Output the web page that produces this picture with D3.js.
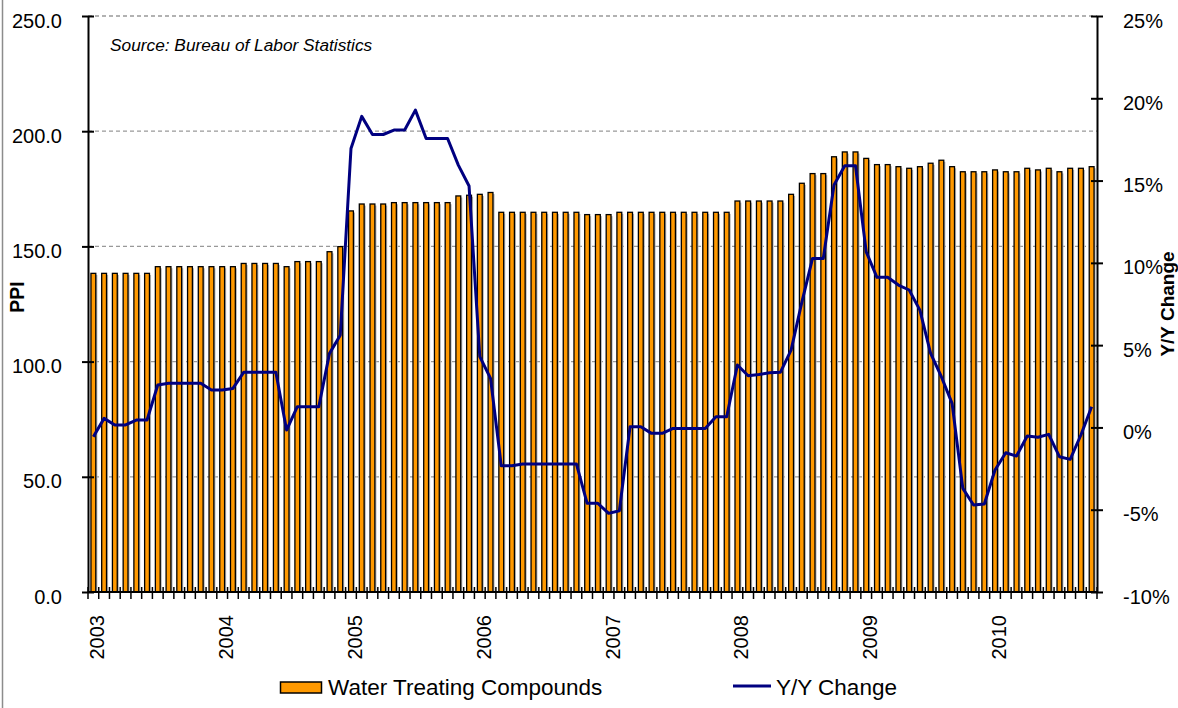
<!DOCTYPE html>
<html>
<head>
<meta charset="utf-8">
<script src="https://cdn.jsdelivr.net/npm/d3@7"></script>
<style>
  body { margin: 0; background: #fff; }
  svg { font-family: "Liberation Sans", Arial, sans-serif; display: block; }
</style>
</head>
<body>
<svg width="1178" height="708"></svg>
<script>
// monthly PPI, Jan 2003 .. Oct 2010
const years = ["2003", "2004", "2005", "2006", "2007", "2008", "2009", "2010"];

const ppi = [
  138.3, 138.3, 138.3, 138.3, 138.3, 138.3, 141.2, 141.2, 141.2, 141.2, 141.2, 141.2,
  141.2, 141.2, 142.6, 142.6, 142.6, 142.6, 141.2, 143.4, 143.4, 143.4, 147.7, 149.9,
  165.4, 168.4, 168.4, 168.4, 169.0, 169.0, 169.0, 169.0, 169.0, 169.0, 171.9, 172.2,
  172.6, 173.4, 164.8, 164.8, 164.8, 164.8, 164.8, 164.8, 164.8, 164.8, 163.8, 163.8,
  163.8, 164.8, 164.8, 164.8, 164.8, 164.8, 164.8, 164.8, 164.8, 164.8, 164.8, 164.8,
  169.7, 169.7, 169.7, 169.7, 169.7, 172.6, 177.4, 181.6, 181.6, 188.9, 191.0, 191.0,
  188.2, 185.5, 185.5, 184.6, 183.9, 184.6, 186.1, 187.4, 184.6, 182.4, 182.4, 182.4,
  183.2, 182.4, 182.4, 183.9, 183.2, 183.9, 182.4, 183.9, 183.9, 184.6
];

// Y/Y change, percent
const yoy = [
  -0.56, 0.55, 0.15, 0.15, 0.45, 0.45, 2.58, 2.68, 2.68, 2.68, 2.68, 2.27,
  2.27, 2.37, 3.35, 3.35, 3.35, 3.35, -0.16, 1.26, 1.26, 1.26, 4.5, 5.6,
  16.95, 18.9, 17.8, 17.8, 18.07, 18.07, 19.28, 17.56, 17.56, 17.56, 15.94, 14.67,
  4.3, 2.98, -2.33, -2.33, -2.22, -2.22, -2.22, -2.22, -2.22, -2.22, -4.61, -4.61,
  -5.22, -5.06, 0.04, 0.04, -0.36, -0.36, -0.06, -0.06, -0.06, -0.06, 0.65, 0.65,
  3.79, 3.14, 3.22, 3.32, 3.35, 4.7, 7.6, 10.27, 10.27, 14.73, 15.9, 15.9,
  10.67, 9.12, 9.12, 8.65, 8.35, 7.13, 4.5, 3.08, 1.46, -3.7, -4.71, -4.65,
  -2.59, -1.54, -1.74, -0.52, -0.6, -0.42, -1.78, -1.94, -0.46, 1.26
];

const leftTicks = [0, 50, 100, 150, 200, 250];
const rightTicks = [-10, -5, 0, 5, 10, 15, 20, 25];

const svg = d3.select("svg");
const margin = {top: 16, right: 81, bottom: 116, left: 88};
const width = 1178 - margin.left - margin.right;
const height = 708 - margin.top - margin.bottom;

const months = ppi.map((d, i) => i);

const x = d3.scaleBand()
  .domain(months)
  .range([0, width])
  .paddingInner(0.55)
  .paddingOuter(0.275);
const step = width / months.length;
const cx = i => x(i) + x.bandwidth() / 2;

const y = d3.scaleLinear().domain([0, 250]).range([height, 0]);
const y2 = d3.scaleLinear().domain([-10, 25]).range([height, 0]);

// left border of the chart area
svg.append("line")
  .attr("x1", 2.5).attr("x2", 2.5)
  .attr("y1", 0).attr("y2", 708)
  .attr("stroke", "#8c8c8c")
  .attr("stroke-width", 1.5);

const g = svg.append("g")
  .attr("transform", `translate(${margin.left},${margin.top})`);

// dashed gridlines
g.append("g")
  .selectAll("line")
  .data(leftTicks.filter(d => d > 0))
  .join("line")
  .attr("x1", 0).attr("x2", width)
  .attr("y1", d => y(d)).attr("y2", d => y(d))
  .attr("stroke", "#999")
  .attr("stroke-width", 1.3)
  .attr("stroke-dasharray", "4,3");

// bar shadows
g.append("g")
  .selectAll("rect")
  .data(ppi)
  .join("rect")
  .attr("x", (d, i) => x(i) + 1.6)
  .attr("y", d => y(d) + 1.6)
  .attr("width", x.bandwidth())
  .attr("height", d => height - y(d) - 1.6)
  .attr("fill", "#b5b5b5");

g.append("g")
  .selectAll("rect")
  .data(ppi)
  .join("rect")
  .attr("x", (d, i) => x(i))
  .attr("y", d => y(d))
  .attr("width", x.bandwidth())
  .attr("height", d => height - y(d))
  .attr("fill", "#ff9900")
  .attr("stroke", "#000")
  .attr("stroke-width", 1.3);

const line = d3.line()
  .x((d, i) => cx(i))
  .y(d => y2(d));

g.append("path")
  .datum(yoy)
  .attr("d", line)
  .attr("fill", "none")
  .attr("stroke", "#000080")
  .attr("stroke-width", 3)
  .attr("stroke-linejoin", "round");

// left axis
const yAxis = g.append("g")
  .call(d3.axisLeft(y).tickValues(leftTicks).tickFormat(d3.format(".1f"))
    .tickSizeInner(6).tickSizeOuter(0).tickPadding(20));
yAxis.select(".domain").attr("stroke-width", 2);
yAxis.selectAll(".tick line").attr("x2", -6).attr("x1", 6).attr("stroke-width", 2);
yAxis.selectAll("text").attr("font-size", 20).attr("dy", "0.55em")
  .attr("font-family", "Liberation Sans, Arial, sans-serif").attr("fill", "#000");

// right axis
const y2Axis = g.append("g")
  .attr("transform", `translate(${width},0)`)
  .call(d3.axisRight(y2).tickValues(rightTicks).tickFormat(d => d + "%")
    .tickSizeInner(6).tickSizeOuter(0).tickPadding(20));
y2Axis.select(".domain").attr("stroke-width", 2);
y2Axis.selectAll(".tick line").attr("x1", -6).attr("x2", 6).attr("stroke-width", 2);
y2Axis.selectAll("text").attr("font-size", 20).attr("dy", "0.55em")
  .attr("font-family", "Liberation Sans, Arial, sans-serif").attr("fill", "#000");

// bottom axis: ticks on month boundaries
const xAxis = g.append("g")
  .attr("transform", `translate(0,${height})`);
xAxis.append("line")
  .attr("x1", 0).attr("x2", width)
  .attr("stroke", "#000").attr("stroke-width", 2);
xAxis.selectAll(".mtick")
  .data(d3.range(months.length + 1))
  .join("line")
  .attr("class", "mtick")
  .attr("x1", i => i * step).attr("x2", i => i * step)
  .attr("y1", -5).attr("y2", 7)
  .attr("stroke", "#000").attr("stroke-width", 1.5);
xAxis.selectAll(".ylab")
  .data(years)
  .join("text")
  .attr("class", "ylab")
  .attr("transform", (d, i) => `translate(${cx(i * 12) + 4},23) rotate(-90)`)
  .attr("text-anchor", "end")
  .attr("dy", "0.35em")
  .attr("font-size", 20)
  .text(d => d);

// axis titles
svg.append("text")
  .attr("transform", "translate(17.5,297) rotate(-90)")
  .attr("text-anchor", "middle")
  .attr("dy", "0.35em")
  .attr("font-size", 19.5)
  .attr("font-weight", "bold")
  .text("PPI");

svg.append("text")
  .attr("transform", "translate(1167,304) rotate(-90)")
  .attr("text-anchor", "middle")
  .attr("dy", "0.35em")
  .attr("font-size", 19)
  .attr("font-weight", "bold")
  .text("Y/Y Change");

svg.append("text")
  .attr("x", 110)
  .attr("y", 51)
  .attr("font-size", 17.3)
  .attr("font-style", "italic")
  .text("Source: Bureau of Labor Statistics");

// legend
svg.append("rect")
  .attr("x", 280.5).attr("y", 682)
  .attr("width", 41).attr("height", 11)
  .attr("fill", "#ff9900")
  .attr("stroke", "#000")
  .attr("stroke-width", 1.5);
svg.append("text")
  .attr("x", 328).attr("y", 695)
  .attr("font-size", 22.5)
  .text("Water Treating Compounds");

svg.append("line")
  .attr("x1", 733).attr("x2", 771)
  .attr("y1", 686).attr("y2", 686)
  .attr("stroke", "#000080")
  .attr("stroke-width", 3);
svg.append("text")
  .attr("x", 776).attr("y", 695)
  .attr("font-size", 22.5)
  .text("Y/Y Change");
</script>
</body>
</html>
